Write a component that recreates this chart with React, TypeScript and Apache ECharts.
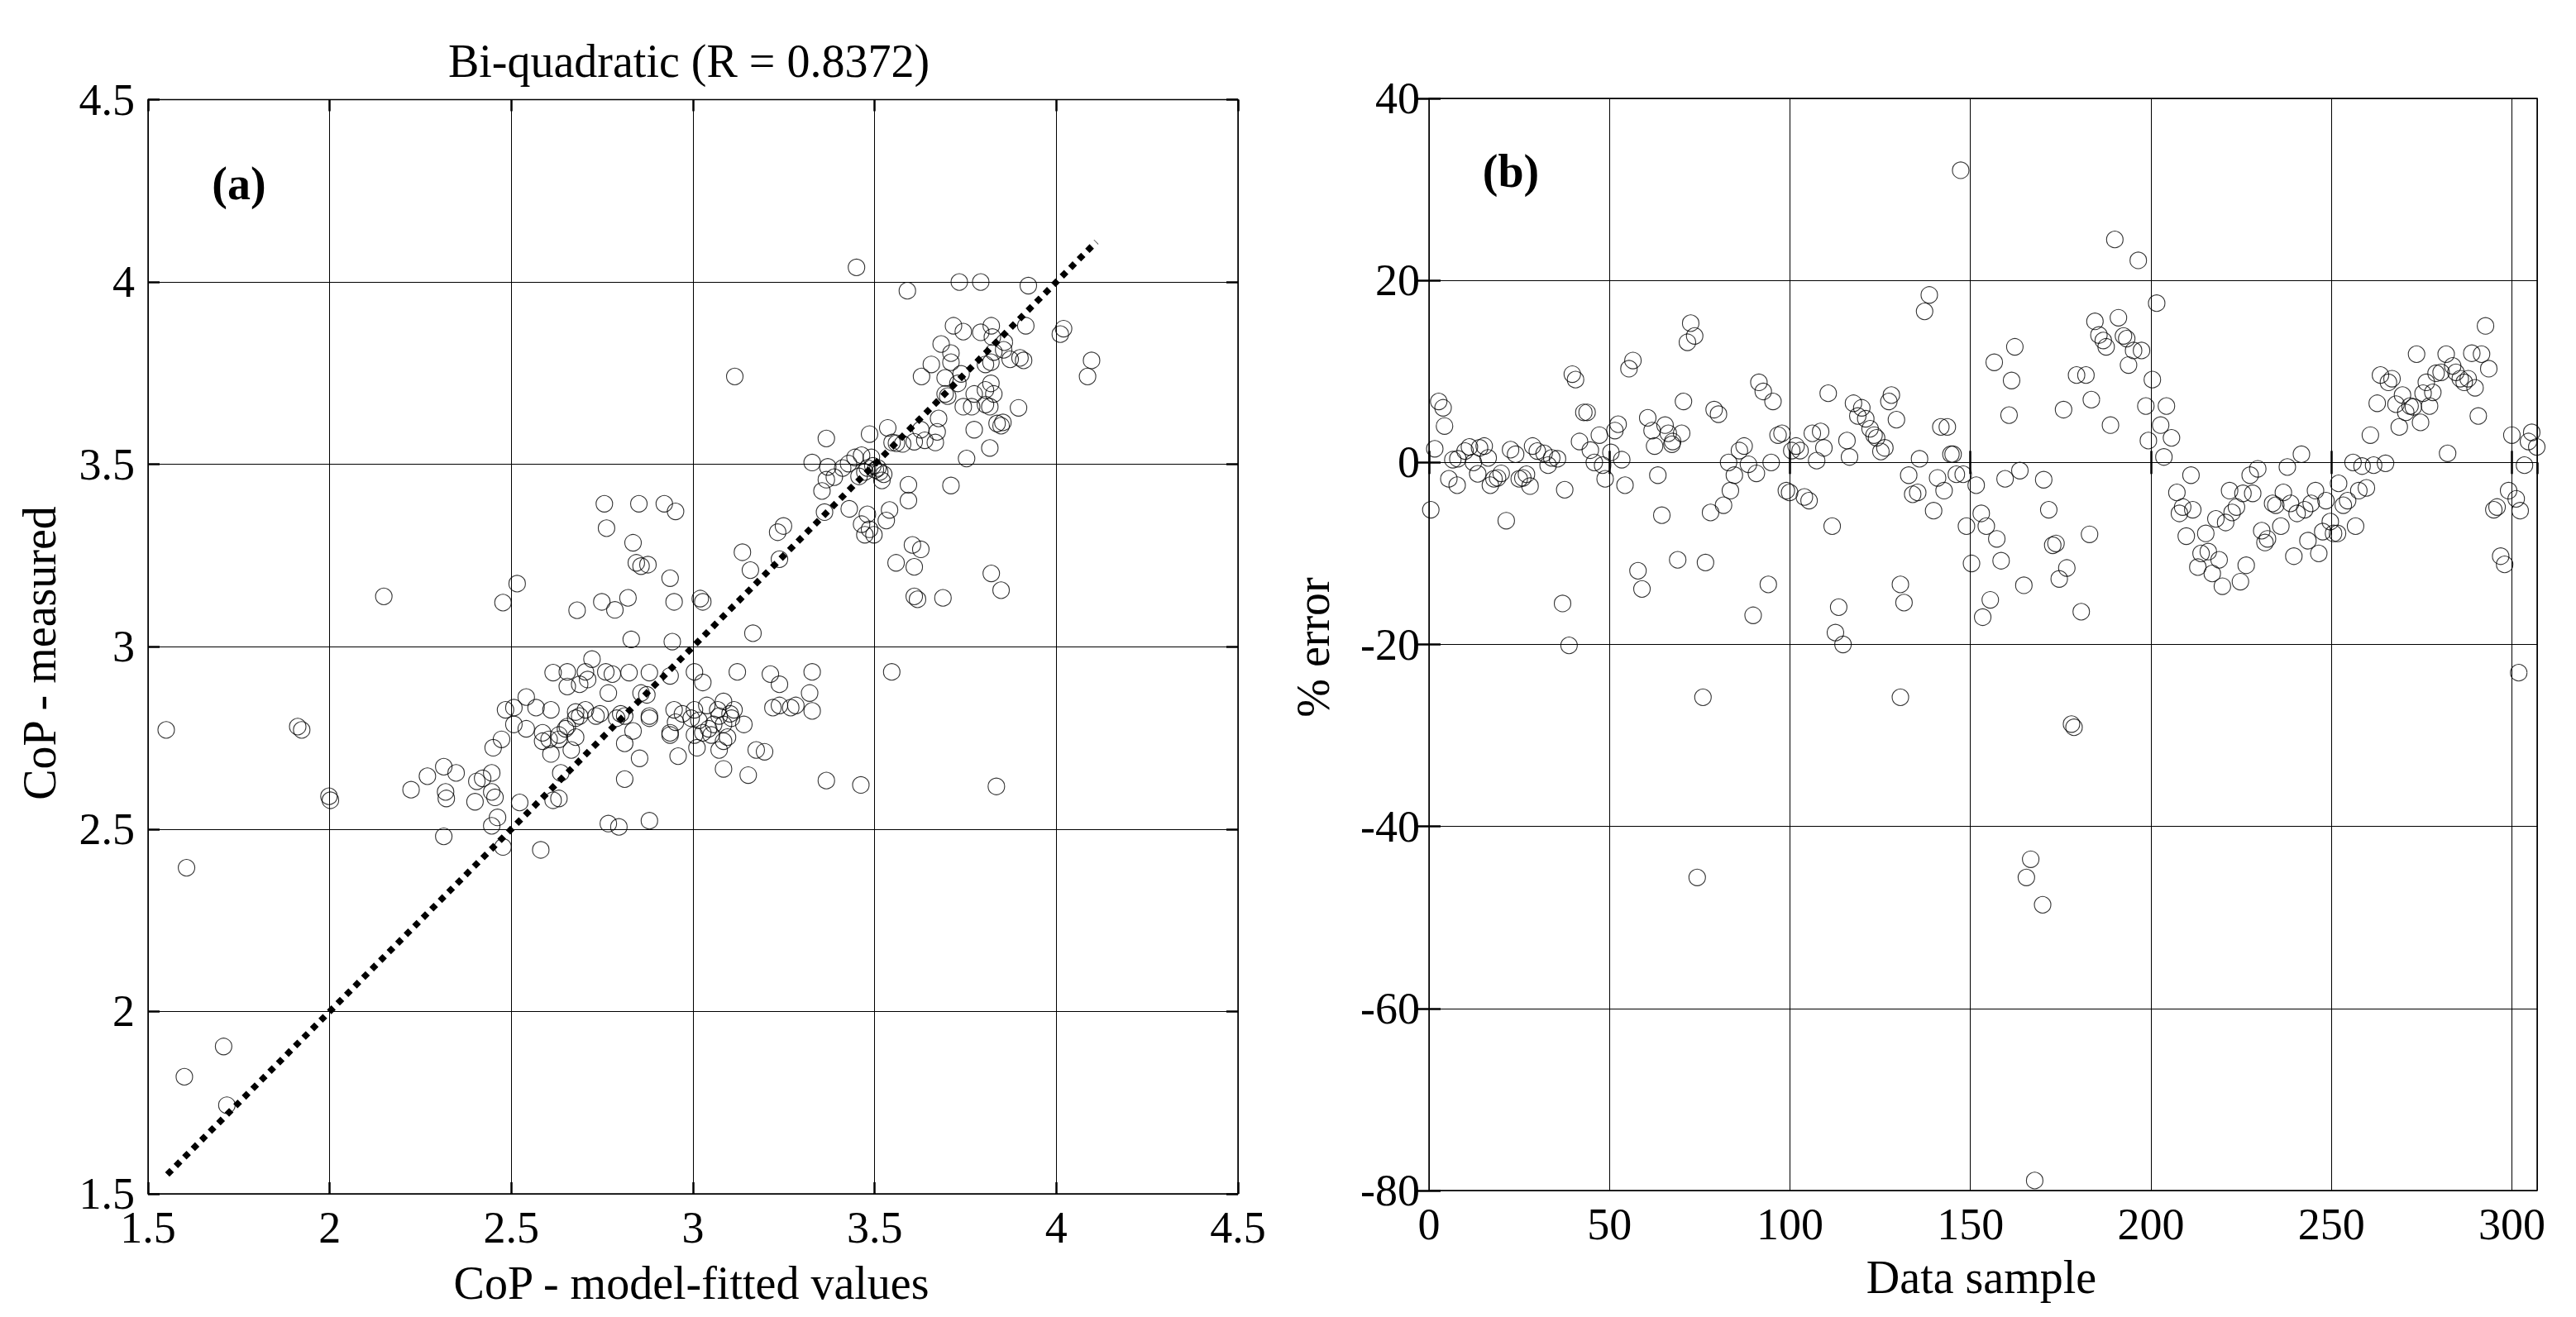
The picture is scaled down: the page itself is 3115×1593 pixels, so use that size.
import React, { useEffect, useRef } from "react";
import * as echarts from "echarts";

// ---------- Panel (a): CoP model-fitted vs measured ----------
const fittedVals: number[] = [
  3.45, 3.59, 3.733, 3.792, 3.923, 3.717, 3.744, 3.792, 3.821, 3.857, 3.916, 4.011, 4.02, 4.097, 4.086,
  3.683, 3.71, 3.71, 3.656, 3.629, 3.694, 3.738, 3.824, 3.828, 3.82, 3.805, 3.873, 3.9, 3.91, 3.855,
  3.701, 3.694, 3.729, 3.774, 3.805, 3.82, 3.828, 3.744, 3.767, 3.805, 3.817, 3.896, 3.676, 3.774, 3.837,
  3.853, 3.848, 3.753, 3.817, 3.71, 3.536, 3.486, 3.548, 3.56, 3.577, 3.609, 3.627, 3.638, 3.667, 3.672,
  3.367, 3.328, 3.371, 3.389, 3.367, 3.412, 3.428, 3.446, 3.457, 3.473, 3.48, 3.495, 3.502, 3.509, 3.514,
  3.525, 3.52, 3.464, 3.491, 3.355, 3.362, 3.43, 3.593, 3.593, 3.541, 3.532, 3.48, 3.464, 3.473, 3.498,
  3.486, 3.604, 3.627, 3.559, 3.609, 3.609, 3.618, 3.688, 3.821, 3.848, 3.115, 2.756, 2.851, 2.921, 2.952,
  2.762, 2.835, 2.844, 2.857, 2.876, 2.937, 3.136, 3.158, 3.233, 3.249, 3.238, 2.149, 2.477, 2.516, 2.681,
  2.749, 2.785, 2.821, 2.948, 3.02, 3.027, 3.165, 2.83, 2.943,
  2.722, 2.615, 2.654, 2.704, 2.76, 2.778, 2.824, 2.88, 2.937, 3.004, 3.027, 3.122, 3.213, 3.238, 3.328,
  3.547, 2.654, 2.688, 2.71, 2.767, 2.857, 2.873, 2.541, 2.484, 2.507, 2.568, 2.609, 2.677, 2.704, 2.744,
  2.801, 2.812, 2.88, 2.948, 2.971, 3.004, 3.038, 3.068, 3.084, 3.102, 3.113, 3.22, 3.238, 3.269, 3.283,
  3.321, 3.328, 2.507, 2.541, 2.586, 2.604, 2.631, 2.654, 2.677, 2.688, 2.733, 2.79, 2.835, 2.88, 2.937,
  2.952, 2.995, 3.016, 3.027, 3.043, 3.057, 3.072, 3.084, 3.106, 3.14, 2.45, 2.473, 2.586, 2.609, 2.631,
  2.649, 2.665, 2.677, 2.812, 2.853, 2.937, 2.959, 3.004, 3.011, 3.05, 3.072, 3.084, 3.095, 3.084, 3.174,
  3.197, 3.152, 1.55, 1.912, 1.923, 1.998, 2.002, 2.224, 2.269, 2.314, 2.348, 2.319, 2.321, 2.4, 2.405,
  2.421, 2.446, 2.446, 2.455, 2.314, 2.446, 2.462, 2.477, 2.523, 2.581, 2.615, 2.631, 2.636, 2.767, 2.796,
  2.812, 2.88, 3.367, 3.462, 3.835, 1.606, 1.708, 1.6, 1.717,
];
const measuredVals: number[] = [
  4.04, 3.976, 4.0, 4.0, 3.99, 3.88, 3.864, 3.862, 3.88, 3.835, 3.88, 3.857, 3.872, 3.785, 3.741,
  3.83, 3.805, 3.78, 3.774, 3.741, 3.737, 3.748, 3.849, 3.808, 3.78, 3.774, 3.788, 3.792, 3.785, 3.814,
  3.687, 3.693, 3.722, 3.693, 3.704, 3.722, 3.693, 3.658, 3.658, 3.664, 3.658, 3.655, 3.626, 3.595, 3.612,
  3.615, 3.606, 3.516, 3.545, 3.442, 3.6, 3.583, 3.56, 3.558, 3.556, 3.562, 3.595, 3.566, 3.56, 3.589,
  3.571, 3.505, 3.493, 3.465, 3.458, 3.49, 3.502, 3.519, 3.467, 3.479, 3.49, 3.496, 3.485, 3.49, 3.479,
  3.473, 3.456, 3.525, 3.519, 3.427, 3.369, 3.378, 3.444, 3.401, 3.375, 3.346, 3.363, 3.336, 3.307, 3.307,
  3.322, 3.279, 3.267, 3.23, 3.219, 3.138, 3.13, 3.134, 3.201, 3.155, 3.741, 3.392, 3.392, 3.392, 3.371,
  3.325, 3.285, 3.23, 3.221, 3.225, 3.188, 3.259, 3.21, 3.314, 3.331, 3.24, 3.138, 3.121, 3.173, 3.1,
  3.123, 3.101, 3.134, 3.123, 3.132, 3.123, 3.037, 3.02, 3.014,
  2.966, 2.929, 2.931, 2.931, 2.931, 2.925, 2.929, 2.929, 2.92, 2.931, 2.902, 2.931, 2.925, 2.897, 2.931,
  2.931, 2.891, 2.897, 2.91, 2.873, 2.873, 2.868, 2.862, 2.827, 2.833, 2.833, 2.827, 2.821, 2.827, 2.816,
  2.816, 2.81, 2.81, 2.827, 2.816, 2.827, 2.839, 2.827, 2.85, 2.816, 2.827, 2.833, 2.839, 2.833, 2.839,
  2.873, 2.824, 2.787, 2.775, 2.764, 2.746, 2.758, 2.781, 2.804, 2.81, 2.81, 2.804, 2.769, 2.804, 2.764,
  2.793, 2.804, 2.798, 2.764, 2.775, 2.787, 2.81, 2.787, 2.804, 2.787, 2.723, 2.746, 2.741, 2.706, 2.746,
  2.775, 2.717, 2.752, 2.735, 2.694, 2.758, 2.7, 2.758, 2.723, 2.758, 2.717, 2.741, 2.752, 2.665, 2.717,
  2.712, 2.648, 2.772, 2.781, 2.772, 2.59, 2.579, 2.608, 2.645, 2.671, 2.654, 2.602, 2.584, 2.575, 2.631,
  2.639, 2.654, 2.602, 2.587, 2.48, 2.509, 2.532, 2.451, 2.573, 2.443, 2.579, 2.584, 2.654, 2.515, 2.506,
  2.637, 2.523, 2.633, 2.621, 2.617, 2.394, 1.904, 1.821, 1.743,
];
const fitLineEnds: number[] = [1.553, 4.11];
const xTicksA = { min: 1.5, max: 4.5, step: 0.5 };
const yTicksA = { min: 1.5, max: 4.5, step: 0.5 };

// ---------- Panel (b): % error by data sample ----------
const sampleIdx: number[] = [
  0.5, 1.6, 2.7, 3.9, 4.3, 5.5, 6.6, 7.8, 8.0, 10, 11.2, 12.3, 13.5, 14, 15.3, 16.4, 17, 18, 19, 20,
  21.4, 22.6, 24, 25, 26, 27, 28, 28.7, 30, 31.9, 33, 34, 35.6, 37, 37.6, 38.8, 39.7, 40.6, 41.7, 42.9,
  43.8, 44.7, 45.8, 47.2, 48.1, 48.8, 50.4, 51.5, 52.4, 53.4, 54.3, 55.4, 56.5, 57.9, 59, 60.6, 61.8, 62.5, 63.4, 64.5,
  65.4, 66.3, 67.3, 67.5, 68.9, 70, 70.5, 71.6, 72.5, 73.6, 74.3, 75.9, 76.6, 78, 79, 80.2, 81.6, 83, 83.5, 84.6,
  86, 87.3, 88.5, 89.8, 90.7, 91.4, 92.6, 94, 94.8, 95.3, 96.7, 97.8, 99, 99.9, 100.5, 101.7, 102.8, 104, 105.3, 106.2,
  107.4, 108.5, 109.4, 110.6, 111.7, 112.6, 113.5, 114.7, 115.8, 116.5, 117.6, 118.8, 119.9, 121, 122.2, 123.3, 124, 125.2, 126.3, 127.4,
  128.1, 129.5, 130.6, 130.6, 131.6, 132.9, 134, 135.4, 135.9, 137.3, 138.6, 139.8, 140.9, 141.8, 142.7, 143.6, 144.6, 145.2, 146.1, 147.3,
  148, 148.9, 150.3, 151.6, 153, 153.4, 154.4, 155.5, 156.6, 157.3, 158.5, 159.6, 160.7, 161.4, 162.3, 163.7, 164.8, 165.5, 166.7, 167.8,
  170, 170.3, 171.7, 172.8, 173.7, 174.6, 175.8, 176.7, 178, 178.7, 179.4, 180.7, 182, 183, 183.5, 184.5, 185.6, 186.8, 187.6, 188.8,
  190, 191, 192.4, 193.3, 193.8, 195.2, 196.5, 197.4, 198.6, 199.3, 200.4, 201.6, 202.7, 203.6, 204.3, 205.7, 207.2, 207.9, 208.8, 209.8,
  211.1, 211.6, 213, 213.9, 215.2, 215.9, 217, 218, 218.9, 219.8, 220.7, 221.8, 222.5, 223.7, 224.8, 225.5, 226.4, 227.5, 228.2, 229.6,
  230.7, 231.6, 232.3, 233.7, 234.6, 236, 236.7, 237.8, 238.7, 239.6, 240.5, 241.7, 242.6, 243.5, 244.4, 245.6, 246.5, 247.6, 248.5, 249.7,
  250.6, 251.7, 252, 253.3, 254.5, 256, 256.7, 257.6, 258.5, 259.7, 260.8, 261.7, 262.7, 263.6, 265, 265.8, 266.8, 267.9, 268.8, 269.7,
  270.6, 271.8, 272.7, 273.6, 274.7, 275.4, 276.3, 277.2, 278.1, 279, 280.4, 281.8, 282.2, 283.6, 284.5, 285.7, 286.8, 287.9, 288.9, 289.8,
  290.7, 291.6, 292.7, 293.6, 295, 295.9, 296.9, 298, 299.1, 300, 301.2, 301.9, 302.3, 303.5, 304.6, 305.5, 306.9,
];
const pctError: number[] = [
  -5.2, 1.5, 6.7, 6.0, 4.0, -1.8, 0.3, -2.5, 0.4, 1.25, 1.7, 0, -1.25, 1.6, 1.8, 0.5, -2.5, -1.8, -1.7, -1.2,
  -6.4, 1.4, 0.9, -1.8, -1.7, -1.3, -2.6, 1.8, 1.25, 1.0, -0.3, 0.5, 0.4, -15.5, -3.0, -20.1, 9.7, 9.1, 2.3, 5.5,
  5.5, 1.35, 0, 3.0, -0.3, -1.8, 1.1, 3.5, 4.2, 0.3, -2.5, 10.3, 11.2, -11.9, -13.9, 4.9, 3.5, 1.8, -1.4, -5.8,
  4.1, 3.2, 2.0, 2.3, -10.7, 3.2, 6.7, 13.2, 15.3, 13.9, -45.6, -25.8, -11, -5.5, 5.8, 5.3, -4.7, 0, -3.1, -1.4,
  1.3, 1.8, -0.2, -16.8, -1.2, 8.8, 7.8, -13.4, 0, 6.7, 3.0, 3.2, -3.1, -3.3, 1.3, 1.8, 1.3, -3.8, -4.2, 3.2,
  0.2, 3.4, 1.6, 7.6, -7.0, -18.7, -15.9, -20, 2.4, 0.6, 6.5, 5.1, 6.0, 4.8, 3.7, 3.0, 2.7, 1.2, 1.6, 6.7,
  7.4, 4.7, -13.4, -25.8, -15.4, -1.4, -3.5, -3.3, 0.4, 16.6, 18.4, -5.3, -1.7, 3.9, -3.1, 3.9, 0.9, 0.9, -1.3, 32.1,
  -1.3, -7.0, -11.1, -2.5, -5.6, -17.0, -7.0, -15.1, 11.0, -8.4, -10.8, -1.8, 5.2, 9.0, 12.7, -0.9, -13.5, -45.6, -43.6, -78.9,
  -48.6, -1.9, -5.2, -9.1, -8.9, -12.8, 5.8, -11.6, -28.75, -29.1, 9.6, -16.4, 9.6, -7.9, 6.9, 15.5, 14.0, 13.4, 12.7, 4.1,
  24.5, 15.9, 13.9, 13.6, 10.7, 12.3, 22.2, 12.3, 6.2, 2.4, 9.1, 17.5, 4.1, 0.6, 6.2, 2.7, -3.3, -5.6, -4.9, -8.1,
  -1.4, -5.2, -11.5, -10.0, -7.8, -9.8, -12.2, -6.2, -10.7, -13.6, -6.6, -3.1, -5.5, -4.9, -13.1, -3.4, -11.3, -1.4, -3.4, -0.7,
  -7.5, -8.8, -8.4, -4.5, -4.7, -7.0, -3.3, -0.5, -4.5, -10.3, -5.6, 0.9, -5.2, -8.6, -4.5, -3.1, -10.0, -7.6, -4.2, -6.5,
  -7.8, -7.8, -2.3, -4.7, -4.2, 0, -7.0, -3.1, -0.4, -2.8, 3.0, -0.3, 6.5, 9.6, -0.1, 8.8, 9.2, 6.4, 3.9, 7.4,
  5.5, 6.2, 6.1, 11.9, 4.4, 7.6, 8.8, 6.2, 7.7, 9.8, 9.9, 11.9, 1.0, 10.6, 9.9, 9.2, 8.8, 9.2, 12.0, 8.2,
  5.1, 11.9, 15.0, 10.3, -5.2, -4.9, -10.3, -11.2, -3.1, 3.0, -4.0, -23.1, -5.3, -0.3, 2.3, 3.3, 1.7,
];
const xTicksB = { min: 0, max: 307, step: 50 };
const yTicksB = { min: -80, max: 40, step: 20 };

const titleText = "Bi-quadratic (R = 0.8372)";
const FONT = '"Liberation Serif", "Times New Roman", serif';

export default function App() {
  const ref = useRef<HTMLDivElement>(null);

  useEffect(() => {
    document.body.style.margin = "0";
    if (!ref.current) return;
    const chart = echarts.init(ref.current, undefined, { renderer: "svg" });

    const label = (margin: number, extra: any = {}) => ({
      show: true,
      color: "#000",
      fontFamily: FONT,
      fontSize: 54,
      margin,
      ...extra,
    });
    const mainAxis = (r: { min: number; max: number; step: number }, gridIndex: number, position: string, lbl: any) => ({
      type: "value",
      gridIndex,
      position,
      min: r.min,
      max: r.max,
      interval: r.step,
      axisLine: { show: false },
      axisTick: { show: true, inside: true, length: 14, lineStyle: { color: "#000", width: 2.5 } },
      splitLine: { show: true, lineStyle: { color: "#000", width: 1 } },
      axisLabel: lbl,
    });
    const mirrorAxis = (r: { min: number; max: number; step: number }, gridIndex: number, position: string) => ({
      type: "value",
      gridIndex,
      position,
      min: r.min,
      max: r.max,
      interval: r.step,
      axisLine: { show: false },
      axisTick: { show: true, inside: true, length: 14, lineStyle: { color: "#000", width: 2.5 } },
      splitLine: { show: false },
      axisLabel: { show: false },
    });

    const scatterStyle = {
      color: "rgba(0,0,0,0)",
      borderColor: "#000",
      borderWidth: 1.1,
    };

    const txt = (text: string, x: number, y: number, size: number, opts: any = {}) => ({
      type: "text",
      x,
      y,
      rotation: opts.rotation || 0,
      style: {
        text,
        fill: "#000",
        fontFamily: FONT,
        fontSize: size,
        fontWeight: opts.bold ? "bold" : "normal",
        align: "center",
        verticalAlign: "middle",
      },
      z: 100,
    });

    const option: any = {
      animation: false,
      backgroundColor: "#fff",
      grid: [
        { left: 179, top: 120.5, width: 1318, height: 1323.5, show: true, borderColor: "#000", borderWidth: 1.5, backgroundColor: "rgba(0,0,0,0)" },
        { left: 1728, top: 119, width: 1340, height: 1321, show: true, borderColor: "#000", borderWidth: 1.5, backgroundColor: "rgba(0,0,0,0)" },
      ],
      xAxis: [
        mainAxis(xTicksA, 0, "bottom", label(14)),
        mirrorAxis(xTicksA, 0, "top"),
        mainAxis(xTicksB, 1, "bottom", label(14, { showMaxLabel: false })),
        mirrorAxis(xTicksB, 1, "top"),
      ],
      yAxis: [
        mainAxis(yTicksA, 0, "left", label(16)),
        mirrorAxis(yTicksA, 0, "right"),
        mainAxis(yTicksB, 1, "left", label(11)),
        mirrorAxis(yTicksB, 1, "right"),
      ],
      series: [
        {
          type: "scatter",
          xAxisIndex: 0,
          yAxisIndex: 0,
          symbol: "circle",
          symbolSize: 20,
          itemStyle: scatterStyle,
          data: fittedVals.map((f, i) => [f, measuredVals[i]]),
          z: 3,
        },
        {
          type: "line",
          xAxisIndex: 0,
          yAxisIndex: 0,
          symbol: "none",
          lineStyle: { color: "#000", width: 7.5, type: [7.5, 7.1], cap: "butt" },
          data: fitLineEnds.map((v) => [v, v]),
          z: 4,
        },
        {
          type: "scatter",
          xAxisIndex: 2,
          yAxisIndex: 2,
          symbol: "circle",
          symbolSize: 20,
          itemStyle: scatterStyle,
          data: sampleIdx.map((s, i) => [s, pctError[i]]),
          z: 3,
        },
      ],
      graphic: [
        txt(titleText, 833, 74, 56),
        txt("(a)", 289, 222, 56, { bold: true }),
        txt("(b)", 1827, 207, 56, { bold: true }),
        txt("CoP - model-fitted values", 836, 1552, 56),
        txt("Data sample", 2396, 1545, 56),
        txt("CoP - measured", 48, 790, 56, { rotation: Math.PI / 2 }),
        txt("% error", 1588, 783, 56, { rotation: Math.PI / 2 }),
      ],
    };

    chart.setOption(option);
    return () => chart.dispose();
  }, []);

  return (
    <div
      ref={ref}
      style={{ position: "absolute", left: 0, top: 0, width: 3115, height: 1593, background: "#fff" }}
    />
  );
}
